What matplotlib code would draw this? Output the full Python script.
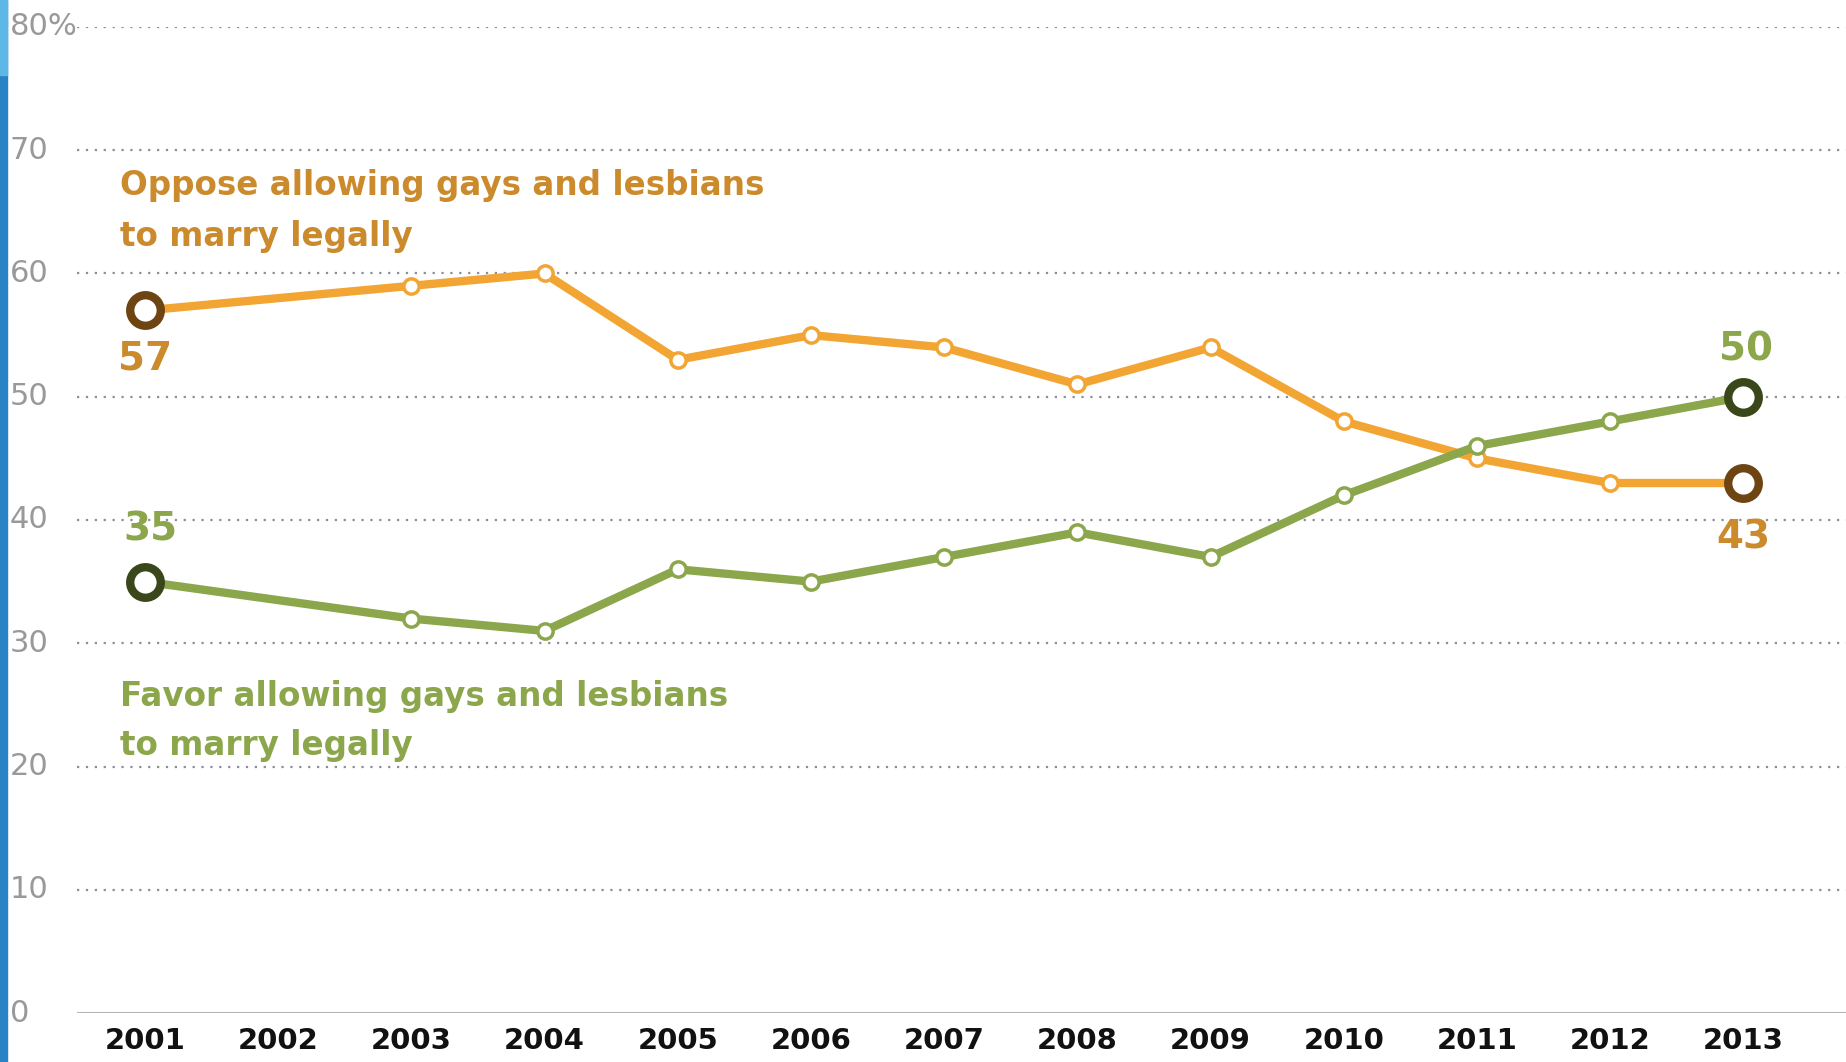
import matplotlib
matplotlib.use("Agg")
import matplotlib.pyplot as plt
import matplotlib.transforms as mtrans
from matplotlib.patches import Rectangle

years = [2001, 2003, 2004, 2005, 2006, 2007, 2008, 2009, 2010, 2011, 2012, 2013]
oppose = [57, 59, 60, 53, 55, 54, 51, 54, 48, 45, 43, 43]
favor = [35, 32, 31, 36, 35, 37, 39, 37, 42, 46, 48, 50]
tick_years = list(range(2001, 2014))
y_ticks = [0, 10, 20, 30, 40, 50, 60, 70, 80]
y_labels = ["0", "10", "20", "30", "40", "50", "60", "70", "80%"]

orange = "#F2A532"
orange_txt = "#CB8A2C"
orange_dark = "#6E4512"
green = "#8BA64B"
green_txt = "#8BA64B"
green_dark = "#39471A"

fig = plt.figure(figsize=(18.46, 10.62), dpi=100)
ax = fig.add_axes([77 / 1846, 1 - 1013 / 1062, 1 - 77 / 1846, (1013 - 27) / 1062])
ax.set_xlim(2000.49, 2013.77)
ax.set_ylim(0, 80)

# blue slide edge on the left
fig.patches.append(Rectangle((0, 0), 7 / 1846, 1, transform=fig.transFigure,
                             color="#2A83C4", zorder=5))
fig.patches.append(Rectangle((0, 1 - 75 / 1062), 7 / 1846, 75 / 1062,
                             transform=fig.transFigure, color="#5DB8E8", zorder=6))

for s in ax.spines.values():
    s.set_visible(False)
for v in y_ticks[1:]:
    ax.axhline(v, color="#8A8E98", lw=1.6, ls=(0, (1, 3)), zorder=1)
ax.axhline(0, color="#B5B5B5", lw=2.2, zorder=1)

ax.tick_params(length=0)
ax.set_yticks(y_ticks)
ax.set_yticklabels([])
ylab_tr = mtrans.blended_transform_factory(fig.transFigure, ax.transData)
for v, lab in zip(y_ticks, y_labels):
    ax.text(10 / 1846, v, lab, transform=ylab_tr, fontsize=22,
            color="#999999", ha="left", va="center")

ax.set_xticks(tick_years)
ax.set_xticklabels([str(y) for y in tick_years], fontsize=21, fontweight="bold",
                   color="#111111")
ax.tick_params(axis="x", pad=10)

ax.plot(years, oppose, color=orange, lw=6, marker="o", ms=11, mfc="white",
        mec=orange, mew=2.5, zorder=3, clip_on=False)
ax.plot(years, favor, color=green, lw=6, marker="o", ms=11, mfc="white",
        mec=green, mew=2.5, zorder=4, clip_on=False)

# bigger end points
for ys, c in [(oppose, orange_dark), (favor, green_dark)]:
    ax.plot([years[0], years[-1]], [ys[0], ys[-1]], ls="none", marker="o", ms=22,
            mfc="white", mec=c, mew=6, zorder=5, clip_on=False)

ax.text(years[0], oppose[0] - 3.9, str(oppose[0]), color=orange_txt, fontsize=28,
        fontweight="bold", ha="center", va="center")
ax.text(years[-1], oppose[-1] - 4.4, str(oppose[-1]), color=orange_txt, fontsize=28,
        fontweight="bold", ha="center", va="center")
ax.text(years[0] + 0.04, favor[0] + 4.2, str(favor[0]), color=green_txt, fontsize=28,
        fontweight="bold", ha="center", va="center")
ax.text(years[-1] + 0.02, favor[-1] + 3.8, str(favor[-1]), color=green_txt, fontsize=28,
        fontweight="bold", ha="center", va="center")

ax.text(2000.81, 67.1, "Oppose allowing gays and lesbians", color=orange_txt,
        fontsize=23.5, fontweight="bold", ha="left", va="center")
ax.text(2000.81, 63.0, "to marry legally", color=orange_txt,
        fontsize=23.5, fontweight="bold", ha="left", va="center")
ax.text(2000.81, 25.7, "Favor allowing gays and lesbians", color=green_txt,
        fontsize=23.5, fontweight="bold", ha="left", va="center")
ax.text(2000.81, 21.7, "to marry legally", color=green_txt,
        fontsize=23.5, fontweight="bold", ha="left", va="center")

fig.savefig("out.png", dpi=100)
